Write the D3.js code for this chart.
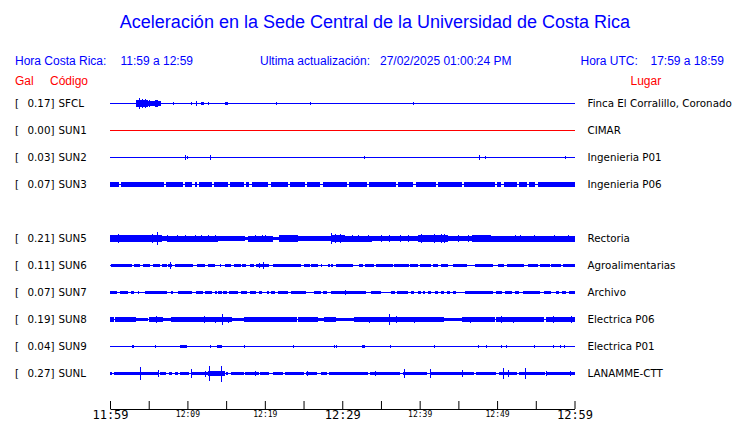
<!DOCTYPE html>
<html><head><meta charset="utf-8">
<script src="https://cdn.jsdelivr.net/npm/d3@7"></script>
<style>
html,body{margin:0;padding:0;background:#fff;}
svg{display:block;}
</style></head>
<body><svg id="c" width="740" height="423"></svg>
<script>
// ---------- data ----------
const title = "Aceleración en la Sede Central de la Universidad de Costa Rica";
const horaCR = "11:59 a 12:59";
const horaUTC = "17:59 a 18:59";
const updated = "27/02/2025 01:00:24 PM";

const rowOrder = ["SFCL","SUN1","SUN2","SUN3","SUN4","SUN5","SUN6","SUN7","SUN8","SUN9","SUNL"];
const codes  = ["SFCL","SUN1","SUN2","SUN3","SUN5","SUN6","SUN7","SUN8","SUN9","SUNL"];
const peaks  = [0.17, 0.00, 0.03, 0.07, 0.21, 0.11, 0.07, 0.19, 0.04, 0.27];
const places = ["Finca El Corralillo, Coronado","CIMAR","Ingenieria P01","Ingenieria P06","Rectoria",
                "Agroalimentarias","Archivo","Electrica P06","Electrica P01","LANAMME-CTT"];
const offline = ["SUN1"];

const tickMinutes = [0,5,10,15,20,25,30,35,40,45,50,55,60];
const labelMinutes = [0,10,20,30,40,50,60];
const tickLabels = ["11:59","12:09","12:19","12:29","12:39","12:49","12:59"];
const majorMinutes = [0,30,60];

// Trace envelopes: [startMinute, endMinute, amplitude (0.01 Gal)]; spikes: [minute, amplitude]
const sfclBursts = [[3.35,4.95,12],[4.95,5.8,8],[5.8,6.2,10],[6.2,6.6,6],[11.8,12.1,4],[14.8,15.3,5]];
const sfclSpikes = [[3.8,17],[4.1,14],[4.5,13],[5.1,12],[8.1,5],[10.5,3],[11.1,7],[11.9,5],[12.6,3],[21.5,3],[25.8,5],[39.1,5]];
const sun1Bursts = [];
const sun1Spikes = [];
const sun2Bursts = [];
const sun2Spikes = [[9.7,6],[9.9,4],[12.95,6],[32.8,4],[47.65,6],[48.4,4],[58.75,4]];
const sun3Bursts = [[0,1.1,5.5],[1.4,6.95,5.5],[7.25,9.4,5.5],[9.7,10.65,5.5],[10.95,11.25,5.5],[11.55,13.15,5.5],[13.45,15.2,5.5],
  [15.5,17.25,5.5],[17.55,18.0,5.5],[18.3,20.45,5.5],[20.75,22.95,5.5],[23.25,25.15,5.5],[25.45,27.15,5.5],[27.45,30.6,5.5],
  [30.9,33.15,5.5],[33.45,36.9,5.5],[37.2,39.2,5.5],[39.5,42.05,5.5],[42.35,45.45,5.5],[45.75,49.75,5.5],[50.05,50.55,5.5],
  [50.85,52.55,5.5],[52.85,53.85,5.5],[54.15,54.95,5.5],[55.25,60,5.5]];
const sun3Spikes = [[6.1,7],[9.7,7],[12.95,8],[20.2,7],[29.0,8]];
const sun5Bursts = [[0,6.67,10],[6.67,7.5,8],[7.5,14,9],[14,17.4,6],[17.4,17.85,3],[17.85,21.1,9],[21.1,21.8,3],[21.8,24.3,10],
  [24.3,28.6,8],[28.6,30.3,11],[30.3,33.8,9],[33.8,39.8,8],[39.8,43.7,11],[43.7,46.7,8],[46.7,49.2,10],[49.2,60,9]];
const sun5Spikes = [[0.5,12],[1.0,13],[1.7,12],[2.45,12],[3.65,12],[4.1,12],[4.95,12],[5.4,13],[6.1,21],[7.3,10],
  [8.6,11],[9.7,11],[11.0,11],[11.8,11],[12.7,10],[13.55,10],[18.7,12],[19.6,11],[20.0,11],[22.15,12],[22.8,12],
  [23.4,11],[24.1,11],[28.6,17],[29.0,15],[29.7,13],[31.2,12],[32.0,11],[33.3,11],[35.0,11],[36.1,10],[37.4,10],
  [38.5,10],[40.2,13],[41.3,12],[41.9,13],[42.8,13],[43.2,14],[44.9,10],[46.2,10],[47.3,11],[48.2,12],[48.6,11],
  [52.3,11],[52.9,11],[54.8,11],[57.4,11],[59.1,11]];
const sun6Bursts = [[0.13,2.8,4],[3.14,3.87,4],[4.2,5.16,4],[5.6,6.45,4],[6.67,7.3,4],[7.44,7.96,4],[8.39,10.75,4],
  [11.3,12.26,4],[12.7,13.55,4],[14.2,14.4,4],[14.84,15.6,4],[16.04,16.9,4],[17.1,17.6,4],[18.06,18.6,4],
  [18.9,20.6,5],[21.1,24.7,4],[25.1,25.8,4],[26.0,26.9,4],[27.2,27.3,4],[28.2,28.4,4],[28.6,28.8,4],[29.25,31.4,4],
  [32.1,32.7,4],[33.0,34.1,4],[34.4,36.6,4],[36.7,38.6,4],[38.8,39.8,4],[40.1,41.4,4],[41.7,42.4,4],[42.8,43.7,4],
  [44.3,46.1,4],[47.2,49.5,4],[50.1,50.9,4],[51.3,53.5,4],[54.0,55.3,4],[55.5,56.8,4],[57.0,58.3,4],[58.5,60,4]];
const sun6Spikes = [[7.75,11],[19.8,10],[19.3,7]];
const sun7Bursts = [[0,0.86,5],[1.29,2.28,5],[2.71,3.05,5],[3.57,3.78,5],[4.52,7.31,5],[7.87,8.17,5],[8.73,10.62,5],
  [11.05,12.04,5],[12.26,13.2,5],[13.55,13.76,5],[13.98,14.41,5],[14.62,15.1,5],[15.35,16.47,5],[16.9,17.76,5],
  [18.06,18.92,5],[19.23,19.57,5],[20.22,20.52,5],[20.77,21.29,5],[21.72,23.01,5],[23.35,25.38,5],[26.37,27.23,5],
  [27.53,28.09,5],[28.6,33.12,5],[33.76,34.97,5],[36.26,36.77,5],[37.12,38.49,5],[38.84,39.27,5],[39.78,40.13,5],
  [40.47,40.73,5],[41.08,41.51,5],[41.94,42.37,5],[42.8,43.14,5],[43.57,43.87,5],[44.3,44.73,5],[45.89,49.46,5],
  [49.89,50.62,5],[50.97,51.91,5],[52.34,52.77,5],[53.33,55.48,5],[56.04,56.99,5],[57.63,58.06,5],[58.37,58.92,5],
  [59.23,60,5]];
const sun7Spikes = [[30.3,8]];
const sun8Bursts = [[0,0.5,6],[0.65,3.4,6],[3.4,4.9,2],[5.0,6.9,7],[6.9,7.9,5],[7.9,12.25,6],[12.3,15.7,7],[15.7,17.3,3],
  [17.3,21.9,6],[21.9,24.1,6],[24.3,26.9,6],[26.9,27.7,3],[27.7,29.2,6],[29.2,31.5,3],[31.5,36.3,7],[36.3,43.2,7],
  [43.2,45.5,3],[45.5,49.7,6],[49.9,53.5,7],[53.5,56.1,6],[56.3,60,6]];
const sun8Spikes = [[5.9,11],[12.2,10],[14.5,19],[15.3,9],[36.1,17],[37.0,10],[46.5,9],[50.5,10],[57.2,10],[59.5,10],
  [1.6,8],[9.0,8],[13.6,9],[19.0,8],[22.9,8],[33.5,9],[39.3,9],[41.0,8],[48.0,8],[52.0,9],[54.5,8]];
const sun9Bursts = [[2.9,3.1,3],[9.0,10.0,3],[13.8,14.5,3],[32.5,32.9,3]];
const sun9Spikes = [[5.8,3],[9.3,4],[9.8,4],[12.9,3],[14.0,4],[14.4,4],[17.3,2],[23.7,3],[28.9,3],[29.2,3],[36.2,4],
  [41.9,3],[47.5,3],[48.6,3],[50.5,3],[51.2,3],[54.8,2],[57.2,3],[58.1,3],[58.7,2]];
const sunlBursts = [[0,0.3,5],[0.5,6.2,5],[6.4,7.2,4],[7.6,8.0,3],[8.4,8.8,3],[9.0,10.2,5],[10.5,12.6,5],[12.6,14.8,6],
  [15.0,15.3,3],[15.6,17.3,4],[17.4,19.2,5],[19.4,20.6,3],[21.0,22.3,4],[22.6,25.0,4],[25.3,26.8,4],[27.2,28.0,3],
  [28.3,33.3,5],[33.6,37.5,5],[37.8,41.0,5],[41.3,47.0,4],[47.3,49.8,5],[50.2,52.6,5],[52.8,56.2,4],[56.5,60,5]];
const sunlSpikes = [[3.9,21],[6.2,10],[10.4,15],[12.3,9],[12.8,25],[14.4,27],[18.7,7],[25.5,7],[34.2,7],[38.0,13],
  [41.3,15],[45.5,12],[50.75,19],[51.4,11],[53.6,19],[56.3,6],[59.4,6]];

const bursts = [sfclBursts,sun1Bursts,sun2Bursts,sun3Bursts,sun5Bursts,sun6Bursts,sun7Bursts,sun8Bursts,sun9Bursts,sunlBursts];
const spikes = [sfclSpikes,sun1Spikes,sun2Spikes,sun3Spikes,sun5Spikes,sun6Spikes,sun7Spikes,sun8Spikes,sun9Spikes,sunlSpikes];

// ---------- drawing ----------
const BLUE = "#0000ff", RED = "#ff0000";
const svg = d3.select("#c");
svg.append("rect").attr("width",740).attr("height",423).attr("fill","#fff");

const x = d3.scaleLinear().domain([0,60]).range([110,574.5]);
const y = d3.scalePoint().domain(rowOrder).range([103,373]);
const a = d3.scaleLinear().domain([0,27]).range([0,7.5]);

const sans = "'Liberation Sans', Arial, sans-serif";
const dv = "'DejaVu Sans', sans-serif";
const FS = 10.3;

svg.append("text").attr("x",375).attr("y",28).attr("text-anchor","middle")
  .attr("font-family",sans).attr("font-size",18).attr("fill",BLUE).text(title);

const hdr = [[15,"Hora Costa Rica:"],[120.5,horaCR],[260,"Ultima actualización:"],[380,updated],[580.5,"Hora UTC:"],[650.5,horaUTC]];
svg.selectAll("text.hdr").data(hdr).join("text").attr("class","hdr")
  .attr("x",d=>d[0]).attr("y",65).attr("font-family",sans).attr("font-size",12).attr("fill",BLUE).text(d=>d[1]);

const sub = [[15,"Gal"],[50,"Código"],[630.5,"Lugar"]];
svg.selectAll("text.sub").data(sub).join("text").attr("class","sub")
  .attr("x",d=>d[0]).attr("y",85).attr("font-family",sans).attr("font-size",12).attr("fill",RED).text(d=>d[1]);

const rows = codes.map((c,i)=>({code:c,peak:peaks[i],place:places[i],bursts:bursts[i],spikes:spikes[i]}));
const g = svg.selectAll("g.row").data(rows).join("g").attr("class","row")
  .attr("transform",d=>`translate(0,${y(d.code)})`);

g.append("text").attr("x",15).attr("y",4).attr("font-family",dv).attr("font-size",FS).text("[");
g.append("text").attr("x",54.5).attr("y",4).attr("text-anchor","end").attr("font-family",dv).attr("font-size",FS)
  .text(d=>d.peak.toFixed(2)+"]");
g.append("text").attr("x",58.5).attr("y",4).attr("font-family",dv).attr("font-size",FS).text(d=>d.code);
g.append("text").attr("x",587.5).attr("y",4).attr("font-family",dv).attr("font-size",FS).text(d=>d.place);

const tr = g.append("g").attr("shape-rendering","crispEdges");
tr.append("rect").attr("x",x(0)).attr("width",x(60)+0.5-x(0)).attr("y",0).attr("height",1)
  .attr("fill",d=>offline.includes(d.code)?RED:BLUE);
tr.selectAll("rect.b").data(d=>d.bursts).join("rect").attr("class","b")
  .attr("x",d=>x(d[0])).attr("width",d=>Math.max(1,x(d[1])-x(d[0])))
  .attr("y",d=>-a(d[2])).attr("height",d=>2*a(d[2])+1).attr("fill",BLUE);
tr.selectAll("rect.s").data(d=>d.spikes).join("rect").attr("class","s")
  .attr("x",d=>Math.round(x(d[0]))).attr("width",1)
  .attr("y",d=>-a(d[1])).attr("height",d=>2*a(d[1])+1).attr("fill",BLUE);

// time axis
const ax = d3.axisBottom(x).tickValues(tickMinutes).tickSizeInner(-8).tickSizeOuter(0)
  .tickFormat(m=>{const k=labelMinutes.indexOf(m);return k<0?"":tickLabels[k];});
const axg = svg.append("g").attr("transform","translate(0,409)").call(ax);
axg.select(".domain").attr("stroke","#000");
axg.selectAll(".tick line").attr("stroke","#000");
axg.selectAll(".tick text").attr("dy",null).attr("fill","#000")
  .attr("font-family","'DejaVu Sans Mono', monospace")
  .attr("font-size",m=>majorMinutes.includes(m)?12:8)
  .attr("y",m=>majorMinutes.includes(m)?10:8);
</script></body></html>
